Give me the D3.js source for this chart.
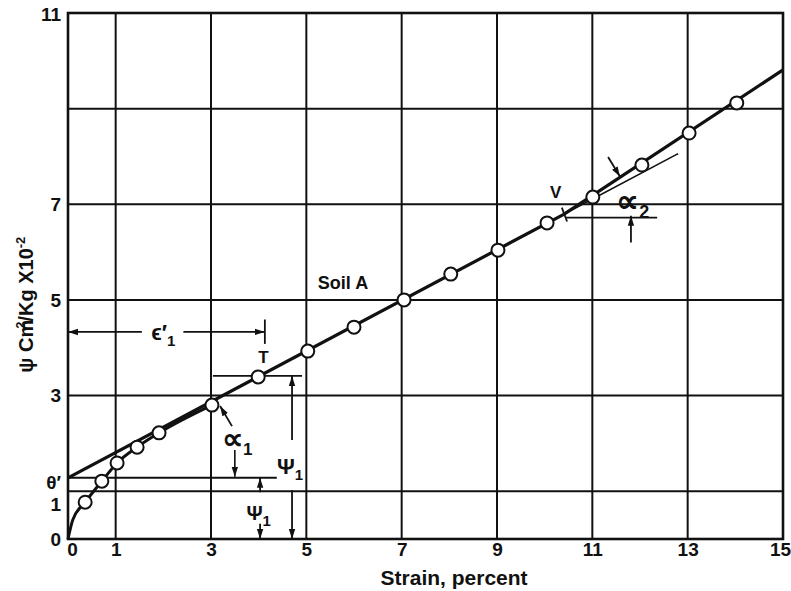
<!DOCTYPE html>
<html>
<head>
<meta charset="utf-8">
<script src="https://cdn.jsdelivr.net/npm/d3@7"></script>
<style>
body{margin:0;background:#fff;}
text{font-family:"Liberation Sans",Arial,sans-serif;font-weight:bold;fill:#111;}
</style>
</head>
<body>
<div id="grafica"></div>
<script>
// valores (Soil A)
var strain = [0.36,0.71,1.03,1.45,1.91,3.02,3.99,5.03,6.0,7.05,8.03,9.02,10.05,11.01,12.04,13.03,14.03];
var psi    = [0.77,1.21,1.59,1.92,2.22,2.80,3.39,3.93,4.43,5.00,5.54,6.04,6.61,7.15,7.82,8.49,9.12];

// tramo curvo inicial desde el origen
var curvaX = [0,0.1,0.36,0.71,1.03,1.45,1.91,3.02];
var curvaY = [0,0.4,0.77,1.21,1.59,1.92,2.22,2.80];

// rectas ajustadas (antes y despues del punto V)
var recta1 = [[0,1.28],[10.4,6.79]];
var recta2 = [[10.4,6.79],[15,9.81]];
var tangente2 = [[10.4,6.79],[12.8,8.06]];

var xGrid = [1,3,5,7,9,11,13];
var yGrid = [1,3,5,7,9];
var xTicks = [0,1,3,5,7,9,11,13,15];
var yTicks = [0,1,3,5,7,11];

var width = 791, height = 591;
var margin = {top: 13, right: 8, bottom: 52, left: 68};

var x = d3.scaleLinear().domain([0,15]).range([margin.left, width - margin.right]);
var y = d3.scaleLinear().domain([0,11]).range([height - margin.bottom, margin.top]);

var svg = d3.select("#grafica").append("svg")
    .attr("width", width)
    .attr("height", height);

svg.append("defs").append("marker")
    .attr("id","flecha")
    .attr("markerUnits","userSpaceOnUse")
    .attr("viewBox","0 -4 10 8")
    .attr("refX",10).attr("refY",0)
    .attr("markerWidth",10).attr("markerHeight",8)
    .attr("orient","auto")
  .append("path")
    .attr("d","M0,-3.2L10,0L0,3.2Z")
    .attr("fill","#111");

//Rejilla
svg.selectAll(".vgrid").data(xGrid).enter().append("line")
    .attr("x1", function(d){ return x(d); }).attr("x2", function(d){ return x(d); })
    .attr("y1", y(0)).attr("y2", y(11))
    .attr("stroke","#111").attr("stroke-width",2);

svg.selectAll(".hgrid").data(yGrid).enter().append("line")
    .attr("x1", x(0)).attr("x2", x(15))
    .attr("y1", function(d){ return y(d); }).attr("y2", function(d){ return y(d); })
    .attr("stroke","#111").attr("stroke-width",2);

svg.append("rect")
    .attr("x", x(0)).attr("y", y(11))
    .attr("width", x(15)-x(0)).attr("height", y(0)-y(11))
    .attr("fill","none").attr("stroke","#111").attr("stroke-width",2.6);

//Ejes
var ejeX = svg.append("g")
    .attr("transform","translate(0,"+y(0)+")")
    .call(d3.axisBottom(x).tickValues(xTicks).tickSize(0).tickPadding(4).tickFormat(d3.format("d")));
ejeX.select(".domain").remove();
ejeX.selectAll("text")
    .attr("font-size",19).attr("font-family",null)
    .attr("dx", function(d){ return d===0 ? 4 : (d===15 ? -3 : 0); });

var ejeY = svg.append("g")
    .attr("transform","translate("+x(0)+",0)")
    .call(d3.axisLeft(y).tickValues(yTicks).tickSize(0).tickPadding(7).tickFormat(d3.format("d")));
ejeY.select(".domain").remove();
ejeY.selectAll("text")
    .attr("font-size",19).attr("font-family",null)
    .attr("dy", function(d){ return d===1 ? "1.0em" : (d===11 ? "0.42em" : "0.32em"); });

svg.append("text")
    .attr("x", x(0)-7).attr("y", y(1.19))
    .attr("dy","0.35em").attr("text-anchor","end").attr("font-size",19)
    .text("θ′");

svg.append("text")
    .attr("text-anchor","middle")
    .attr("x", x(8.1)).attr("y", y(0)+46)
    .attr("font-size",21)
    .text("Strain, percent");

var ylab = svg.append("text")
    .attr("text-anchor","middle")
    .attr("transform","translate(33,"+y(4.9)+") rotate(-90)")
    .attr("font-size",20);
ylab.append("tspan").text("ψ Cm");
ylab.append("tspan").attr("font-size",13).attr("dy",-8).attr("dx",-9).text("2");
ylab.append("tspan").attr("dy",8).text("/Kg X10");
ylab.append("tspan").attr("font-size",13).attr("dy",-8).text("-2");

//Lineas de la serie
var linea = d3.line()
    .x(function(d){ return x(d[0]); })
    .y(function(d){ return y(d[1]); });

var curva = d3.line()
    .curve(d3.curveMonotoneX)
    .x(function(d){ return x(d[0]); })
    .y(function(d){ return y(d[1]); });

svg.append("path")
    .attr("d", curva(d3.zip(curvaX, curvaY)))
    .attr("fill","none").attr("stroke","#111").attr("stroke-width",3);

svg.append("path").attr("d", linea(recta1))
    .attr("fill","none").attr("stroke","#111").attr("stroke-width",3.2);
svg.append("path").attr("d", linea(recta2))
    .attr("fill","none").attr("stroke","#111").attr("stroke-width",3.2);
svg.append("path").attr("d", linea(tangente2))
    .attr("fill","none").attr("stroke","#111").attr("stroke-width",1.6);

//Anotaciones
function trazo(p1, p2, ancho, flecha){
    var l = svg.append("line")
        .attr("x1", x(p1[0])).attr("y1", y(p1[1]))
        .attr("x2", x(p2[0])).attr("y2", y(p2[1]))
        .attr("stroke","#111").attr("stroke-width", ancho);
    if(flecha) l.attr("marker-end","url(#flecha)");
    return l;
}

function rotulo(px, py, txt, sub, size, subSize){
    var t = svg.append("text")
        .attr("x", x(px)).attr("y", y(py))
        .attr("dy","0.35em").attr("text-anchor","middle")
        .attr("font-size", size || 20);
    t.append("tspan").text(txt);
    if(sub) t.append("tspan").attr("font-size", subSize || 15).attr("dy", 6).text(sub);
    return t;
}

// epsilon'1
trazo([1.55,4.33],[0,4.33],1.8,true);
trazo([2.42,4.33],[4.13,4.33],1.8,true);
trazo([4.13,4.59],[4.13,4.08],1.8,false);
rotulo(2.0,4.33,"ϵ′","1",22);
rotulo(4.1,3.81,"T",null,17);

// nivel del punto T y psi1 grande
trazo([3.04,3.41],[4.91,3.41],1.8,false);
trazo([4.70,2.07],[4.70,3.41],1.8,true);
trazo([4.70,1.02],[4.70,0],1.8,true);
rotulo(4.66,1.51,"Ψ","1",22);

// intercepto y psi1 pequeno
trazo([0,1.28],[4.38,1.28],2,false);
trazo([4.03,0.98],[4.03,1.28],1.8,true);
trazo([4.03,0.32],[4.03,0],1.8,true);
rotulo(4.0,0.54,"Ψ","1",20);

// alfa1
trazo([3.44,2.36],[3.19,2.78],1.8,true);
rotulo(3.55,2.1,"∝","1",30,17);
trazo([3.50,1.86],[3.50,1.30],1.6,true);

// punto V y alfa2
rotulo(10.23,7.26,"V",null,17);
trazo([10.36,6.93],[10.47,6.64],1.8,false);
trazo([10.45,6.72],[12.36,6.72],1.6,false);
trazo([11.33,7.99],[11.58,7.58],1.8,true);
rotulo(11.85,7.08,"∝","2",32,18);
trazo([11.81,6.2],[11.81,6.76],1.8,true);

rotulo(5.77,5.37,"Soil A",null,18);

//Puntos
svg.selectAll(".punto")
    .data(d3.zip(strain, psi))
  .enter().append("circle")
    .attr("cx", function(d){ return x(d[0]); })
    .attr("cy", function(d){ return y(d[1]); })
    .attr("r", 6.5)
    .attr("fill","#fff").attr("stroke","#111").attr("stroke-width",2);
</script>
</body>
</html>
